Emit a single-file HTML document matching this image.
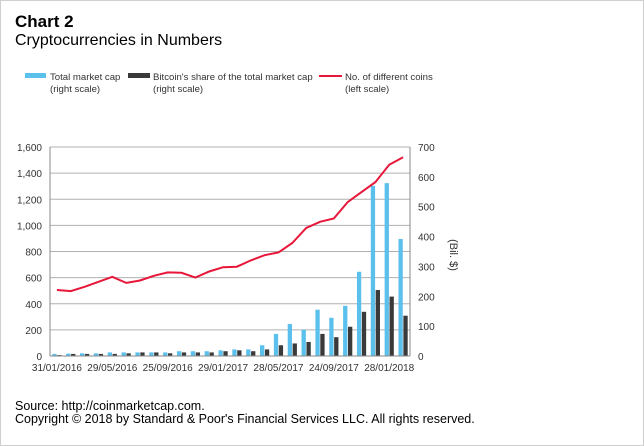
<!DOCTYPE html>
<html><head><meta charset="utf-8">
<style>
html,body{margin:0;padding:0;background:#fff;}
svg{display:block;font-family:"Liberation Sans",sans-serif;}
</style></head>
<body>
<svg id="chart" width="644" height="446" viewBox="0 0 644 446">
<rect x="0.5" y="0.5" width="643" height="445" fill="#fff" stroke="#cfcfcf"/>
<text x="15" y="27" font-size="17" font-weight="bold" fill="#000">Chart 2</text>
<text x="15" y="45" font-size="16" fill="#000">Cryptocurrencies in Numbers</text>
<g font-size="9.6" fill="#333">
 <g>
  <rect x="25" y="73" width="21" height="5" fill="#5bc0eb"/>
  <text x="50" y="80">Total market cap</text><text x="50" y="92">(right scale)</text>
 </g>
 <g>
  <rect x="128" y="73" width="22" height="5" fill="#3a3a3a"/>
  <text x="153" y="80">Bitcoin's share of the total market cap</text><text x="153" y="92">(right scale)</text>
 </g>
 <g>
  <line x1="319" y1="76" x2="342" y2="76" stroke="#e8173a" stroke-width="2"/>
  <text x="345" y="80">No. of different coins</text><text x="345" y="92">(left scale)</text>
 </g>
</g>
<g id="plot"></g>
<text transform="translate(450,255) rotate(90)" font-size="11" fill="#333" text-anchor="middle">(Bil. $)</text>
<text x="15" y="410" font-size="12.5" fill="#000">Source: http://coinmarketcap.com.</text>
<text x="15" y="423" font-size="12.5" fill="#000">Copyright © 2018 by Standard &amp; Poor's Financial Services LLC. All rights reserved.</text>
</svg>
<script>
const categories = ["31/01/2016","29/02/2016","31/03/2016","30/04/2016","29/05/2016","30/06/2016","31/07/2016","31/08/2016","25/09/2016","31/10/2016","30/11/2016","31/12/2016","29/01/2017","28/02/2017","31/03/2017","30/04/2017","28/05/2017","30/06/2017","31/07/2017","31/08/2017","24/09/2017","31/10/2017","30/11/2017","31/12/2017","28/01/2018","28/02/2018"];
const totalCap = [7,8,9,9,12,12,12,12,12,16,16,16,19,22,22,36,74,107,88,155,128,168,282,570,579,392];
const btcCap = [3,7,7,7,7,9,12,12,9,12,12,12,16,19,16,22,36,42,47,74,63,98,148,221,199,135];
const coins = [505,497,530,568,606,560,578,614,640,637,600,647,680,684,732,772,793,865,981,1027,1053,1178,1255,1331,1464,1522];
const leftTicks = [0,200,400,600,800,1000,1200,1400,1600];
const rightTicks = [0,100,200,300,400,500,600,700];
const labelEvery = 4;

const X0=50, X1=410, Y0=356, Y1=147;
const n = categories.length, step=(X1-X0)/n;
const yL = v => Y0 - (v/1600)*(Y0-Y1);
const yR = v => Y0 - (v/700)*(Y0-Y1);
const xC = i => X0 + step*(i+0.5);
const NS="http://www.w3.org/2000/svg";
const g=document.getElementById('plot');
function mk(t,a){const e=document.createElementNS(NS,t);for(const k in a)e.setAttribute(k,a[k]);g.appendChild(e);return e;}

leftTicks.forEach(v=>{
 const y=yL(v);
 if(v>0){const l=mk('line',{x1:X0,x2:X1,y1:y,y2:y,stroke:'#b0b0b0','stroke-width':1});
 
 }
 const t=mk('text',{x:X0-8,y:y+4,'font-size':10,'text-anchor':'end',fill:'#333'});t.textContent=v.toLocaleString('en-US');
 
 
});
rightTicks.forEach(v=>{
 const y=yR(v);
 const t=mk('text',{x:X1+8,y:y+4,'font-size':10,fill:'#333'});t.textContent=v;
 
 
});
const bw=4.3;
categories.forEach((c,i)=>{
 const x=xC(i);
 const b=mk('rect',{x:x-bw-0.3,y:yR(totalCap[i]),width:bw,height:Y0-yR(totalCap[i]),fill:'#5bc0eb'});
 
 
 const d=mk('rect',{x:x+0.3,y:yR(btcCap[i]),width:bw,height:Y0-yR(btcCap[i]),fill:'#3a3a3a'});
 
 
 if(i%labelEvery===0){
  const t=mk('text',{x:x,y:Y0+15,'font-size':10,'text-anchor':'middle',fill:'#333'});t.textContent=c;
  
  
 }
});
const ax=mk('line',{x1:X0,x2:X1,y1:Y0,y2:Y0,stroke:'#888','stroke-width':1});


const ll=mk('line',{x1:X0,x2:X0,y1:Y1,y2:Y0,stroke:'#888','stroke-width':1});


const rl=mk('line',{x1:X1,x2:X1,y1:Y1,y2:Y0,stroke:'#888','stroke-width':1});


const pts=coins.map((v,i)=>xC(i).toFixed(1)+','+yL(v).toFixed(1)).join(' ');
const p=mk('polyline',{points:pts,fill:'none',stroke:'#e8173a','stroke-width':2});


</script>
</body></html>
